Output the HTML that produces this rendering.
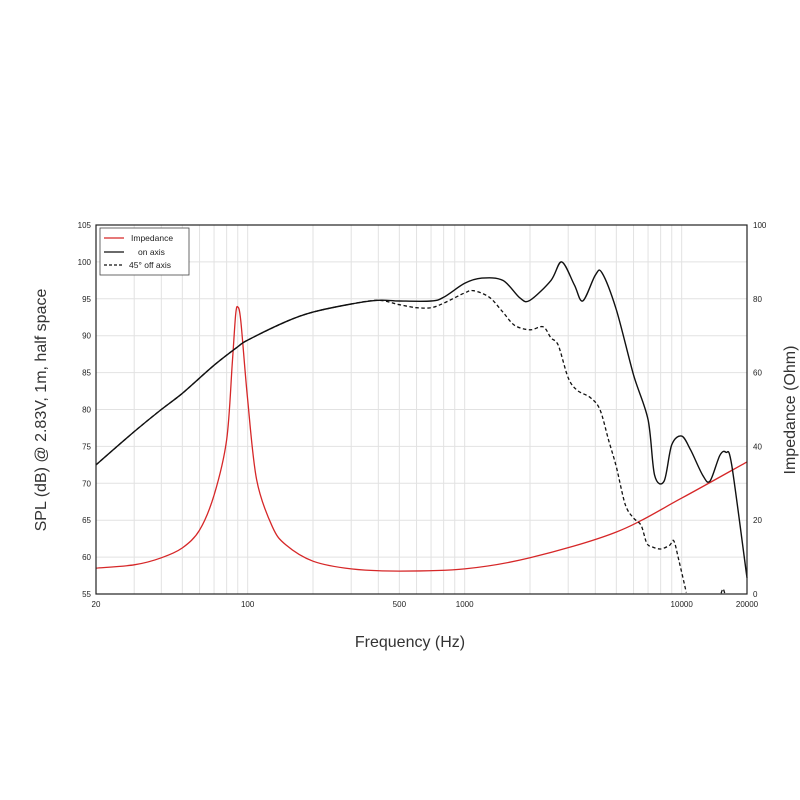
<!DOCTYPE html>
<html><head><meta charset="utf-8"><style>
html,body{margin:0;padding:0;background:#fff;width:800px;height:800px;overflow:hidden}
text{font-family:"Liberation Sans","DejaVu Sans",sans-serif}
</style></head><body>
<svg id="chart" width="800" height="800" viewBox="0 0 800 800" xmlns="http://www.w3.org/2000/svg">
<g id="grid"></g>
<g id="series"></g>
<rect x="96" y="225" width="651" height="369" fill="none" stroke="#222" stroke-width="1.2"/>
<g id="ticks" font-size="8" fill="#222"></g>
<text transform="translate(46,410) rotate(-90)" text-anchor="middle" font-size="16" fill="#333">SPL (dB) @ 2.83V, 1m, half space</text>
<text transform="translate(795,410) rotate(-90)" text-anchor="middle" font-size="16" fill="#333">Impedance (Ohm)</text>
<text x="410" y="647" text-anchor="middle" font-size="16" fill="#333">Frequency (Hz)</text>
<g>
<rect x="100" y="228" width="89" height="47" fill="#fff" stroke="#444" stroke-width="0.8"/>
<line x1="104" y1="238" x2="124" y2="238" stroke="#d62728" stroke-width="1.3"/>
<text x="131" y="241" font-size="8.5" fill="#222">Impedance</text>
<line x1="104" y1="252" x2="124" y2="252" stroke="#111" stroke-width="1.3"/>
<text x="138" y="255" font-size="8.5" fill="#222">on axis</text>
<line x1="104" y1="265" x2="124" y2="265" stroke="#111" stroke-width="1.3" stroke-dasharray="3,2"/>
<text x="129" y="268" font-size="8.5" fill="#222">45° off axis</text>
</g>
</svg>
<script>
const onFreq=[20,30,40,50,70,90,100,150,200,300,400,500,700,800,1000,1200,1500,1800,2000,2500,2800,3200,3500,4000,4300,5000,6000,7000,7500,8300,9000,10000,11000,12500,13500,15000,16000,17000,20000];
const onDb=[72.5,77,80,82.2,86,88.5,89.4,91.9,93.2,94.3,94.8,94.7,94.7,95.2,97.1,97.8,97.5,95.1,94.8,97.5,100,96.9,94.7,98.2,98.5,93.5,84.7,78.6,71.1,70.3,75.2,76.4,74.5,71.1,70.3,73.8,74.2,72.5,57.2];
const offFreq=[20,30,40,50,70,90,100,150,200,300,400,500,600,700,800,1000,1100,1300,1500,1700,2000,2300,2500,2700,3000,3300,3800,4200,4600,5000,5500,6000,6500,6900,7300,8000,8800,9200,9700,10500];
const offDb=[72.5,77,80,82.2,86,88.5,89.4,91.9,93.2,94.3,94.8,94.2,93.8,93.8,94.4,95.8,96.1,95.2,93.2,91.4,90.8,91.2,89.7,88.7,84.3,82.6,81.6,80,75.9,72.2,67.1,65.3,64.3,61.9,61.4,61.1,61.6,62.2,59.6,55.2];
const offTailFreq=[15200,15500,15800];
const offTailDb=[55.1,55.7,55.1];
const impFreq=[20,30,40,50,60,70,80,85,88,90,93,100,110,130,150,200,300,500,1000,2000,5000,10000,20000];
const impOhm=[7,7.9,9.8,12.5,17.3,26.8,41.7,63,75.6,77.8,74,52.6,30.9,18.2,13.3,8.9,6.8,6.2,6.8,9.8,16.8,26,35.8];
const dbTicks=[55,60,65,70,75,80,85,90,95,100,105];
const ohmTicks=[0,20,40,60,80,100];
const freqTickLabels=[20,100,500,1000,10000,20000];
const X0=96,X1=747,Y0=594,Y1=225;
const xs=f=>X0+(Math.log10(f)-Math.log10(20))/3*(X1-X0);
const yDb=d=>Y0-(d-55)/50*(Y0-Y1);
const yOhm=o=>Y0-o/100*(Y0-Y1);
const NS="http://www.w3.org/2000/svg";
const grid=document.getElementById('grid'),ticks=document.getElementById('ticks'),ser=document.getElementById('series');
function mk(tag,attrs,parent){const e=document.createElementNS(NS,tag);for(const k in attrs)e.setAttribute(k,attrs[k]);parent.appendChild(e);return e;}
for(let dec=10;dec<=10000;dec*=10){for(let m=1;m<10;m++){const f=dec*m;if(f<=20||f>=20000)continue;const x=xs(f);
const l=mk('line',{x1:x,x2:x,y1:Y1,y2:Y0,stroke:'#e2e2e2','stroke-width':1},grid);

}}
dbTicks.forEach(d=>{const y=yDb(d);
if(d>55&&d<105){const l=mk('line',{x1:X0,x2:X1,y1:y,y2:y,stroke:'#e2e2e2','stroke-width':1},grid);

}
const t=mk('text',{x:X0-5,y:y+3,'text-anchor':'end'},ticks);t.textContent=d;

});
ohmTicks.forEach(o=>{const t=mk('text',{x:X1+6,y:yOhm(o)+3,'text-anchor':'start'},ticks);t.textContent=o;

});
freqTickLabels.forEach(f=>{const t=mk('text',{x:xs(f),y:Y0+13,'text-anchor':'middle'},ticks);t.textContent=f;

});
function smooth(pts){let d='M'+pts[0][0].toFixed(1)+','+pts[0][1].toFixed(1);const k=0.16;
for(let i=0;i<pts.length-1;i++){const p0=pts[i-1]||pts[i],p1=pts[i],p2=pts[i+1],p3=pts[i+2]||p2;
const c1x=p1[0]+(p2[0]-p0[0])*k,c1y=p1[1]+(p2[1]-p0[1])*k,c2x=p2[0]-(p3[0]-p1[0])*k,c2y=p2[1]-(p3[1]-p1[1])*k;
d+='C'+c1x.toFixed(1)+','+c1y.toFixed(1)+' '+c2x.toFixed(1)+','+c2y.toFixed(1)+' '+p2[0].toFixed(1)+','+p2[1].toFixed(1);}
return d;}
function path(fr,vals,yf,attrs,name){const pts=fr.map((f,i)=>[xs(f),yf(vals[i])]);
const p=mk('path',Object.assign({d:smooth(pts),fill:'none','stroke-linejoin':'round'},attrs),ser);

}
path(impFreq,impOhm,yOhm,{stroke:'#d62728','stroke-width':1.3},'impedance-line');
path(offFreq,offDb,yDb,{stroke:'#111','stroke-width':1.3,'stroke-dasharray':'3.5,2.5'},'off-axis-line');
path(offTailFreq,offTailDb,yDb,{stroke:'#111','stroke-width':1.3,'stroke-dasharray':'3.5,2.5'},'off-axis-tail');
path(onFreq,onDb,yDb,{stroke:'#111','stroke-width':1.4},'on-axis-line');
</script>
</body></html>
